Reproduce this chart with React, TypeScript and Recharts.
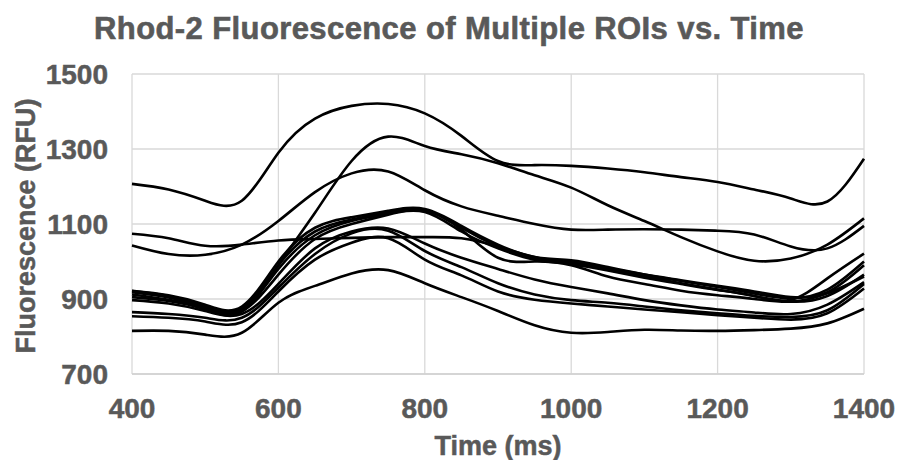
import { LineChart, Line, XAxis, YAxis, CartesianGrid } from "recharts";

// sample times (ms)
const times = [
  400, 450, 500, 550, 600, 650, 700, 750, 800, 850, 900, 950, 1000, 1050,
  1100, 1150, 1200, 1250, 1300, 1350, 1400,
];

// fluorescence per ROI (RFU)
const roiA = [1207, 1192, 1162, 1162, 1290, 1381, 1415, 1420, 1395, 1335, 1268, 1257, 1255, 1248, 1238, 1225, 1212, 1192, 1168, 1160, 1274];
const roiB = [905, 895, 872, 866, 990, 1130, 1268, 1333, 1308, 1286, 1262, 1230, 1197, 1150, 1108, 1065, 1027, 1002, 1008, 1045, 1115];
const roiC = [1043, 1020, 1018, 1045, 1108, 1185, 1235, 1240, 1190, 1147, 1122, 1100, 1085, 1085, 1086, 1085, 1082, 1072, 1040, 1035, 1095];
const roiD = [1074, 1062, 1042, 1045, 1056, 1060, 1063, 1065, 1065, 1062, 1040, 1012, 997, 982, 965, 950, 935, 920, 905, 918, 990];
const roiE1 = [922, 910, 885, 880, 1000, 1090, 1118, 1135, 1140, 1095, 1045, 1012, 1003, 985, 965, 948, 932, 915, 902, 925, 1000];
const roiE2 = [921, 908, 882, 876, 990, 1080, 1112, 1132, 1138, 1090, 1040, 1008, 998, 980, 960, 942, 925, 908, 893, 908, 965];
const roiE3 = [918, 904, 879, 872, 980, 1070, 1108, 1128, 1135, 1085, 1010, 1000, 993, 976, 957, 940, 924, 908, 898, 955, 1021];
const roiX = [912, 898, 876, 868, 965, 1060, 1100, 1125, 1132, 1080, 1035, 1005, 990, 960, 940, 922, 910, 900, 893, 915, 960];
const roiF1 = [897, 888, 868, 860, 940, 1035, 1080, 1088, 1048, 1010, 980, 952, 932, 915, 897, 883, 872, 864, 860, 885, 945];
const roiF2 = [865, 860, 850, 850, 930, 1020, 1075, 1082, 1028, 985, 942, 912, 897, 890, 880, 870, 862, 855, 852, 870, 940];
const roiF3 = [854, 850, 840, 838, 920, 1005, 1050, 1062, 1005, 963, 920, 898, 888, 880, 872, 865, 857, 850, 845, 862, 928];
const roiL = [815, 815, 805, 810, 890, 935, 968, 977, 942, 905, 868, 830, 810, 812, 818, 816, 815, 817, 821, 835, 874];

const rois = [roiA, roiB, roiC, roiD, roiE1, roiE2, roiE3, roiX, roiF1, roiF2, roiF3, roiL];

const xTicks = [400, 600, 800, 1000, 1200, 1400];
const yTicks = [700, 900, 1100, 1300, 1500];

const data = times.map((t, i) => {
  const row: Record<string, number> = { time: t };
  rois.forEach((r, k) => {
    row["roi" + k] = r[i];
  });
  return row;
});

const gray = "#595959";
const font = "Arial, 'Liberation Sans', sans-serif";
const tickStyle = {
  fill: gray,
  fontSize: 28,
  fontWeight: 700,
  fontFamily: font,
  stroke: gray,
  strokeWidth: 0.5,
};

export default function App() {
  return (
    <div style={{ position: "absolute", left: 0, top: 0, width: 897, height: 460, background: "#fff" }}>
      <LineChart
        width={897}
        height={460}
        data={data}
        margin={{ top: 74, right: 33, left: 0, bottom: 0 }}
      >
        <CartesianGrid stroke="#d9d9d9" strokeWidth={1.3} />
        <XAxis
          dataKey="time"
          type="number"
          domain={[400, 1400]}
          ticks={xTicks}
          height={86}
          axisLine={{ stroke: "#d0d0d0", strokeWidth: 1.3 }}
          tickLine={false}
          tickSize={0}
          tickMargin={24}
          tick={tickStyle}
        />
        <YAxis
          type="number"
          domain={[700, 1500]}
          ticks={yTicks}
          width={132}
          axisLine={false}
          tickLine={false}
          tickSize={0}
          tickMargin={24}
          tick={tickStyle}
        />
        {rois.map((_, k) => (
          <Line
            key={k}
            dataKey={"roi" + k}
            type="natural"
            stroke="#000"
            strokeWidth={2.6}
            dot={false}
            isAnimationActive={false}
          />
        ))}
      </LineChart>
      <svg
        width={897}
        height={460}
        style={{ position: "absolute", left: 0, top: 0, pointerEvents: "none" }}
      >
        <text
          x={449}
          y={39}
          textAnchor="middle"
          fill={gray}
          stroke={gray}
          strokeWidth={0.6}
          fontSize={31}
          fontWeight={700}
          letterSpacing={0.4}
          fontFamily={font}
        >
          Rhod-2 Fluorescence of Multiple ROIs vs. Time
        </text>
        <text
          x={498}
          y={455}
          textAnchor="middle"
          fill={gray}
          stroke={gray}
          strokeWidth={0.5}
          fontSize={27}
          fontWeight={700}
          fontFamily={font}
        >
          Time (ms)
        </text>
        <text
          x={35}
          y={226}
          textAnchor="middle"
          transform="rotate(-90 35 226)"
          fill={gray}
          stroke={gray}
          strokeWidth={0.5}
          fontSize={27}
          fontWeight={700}
          fontFamily={font}
        >
          Fluorescence (RFU)
        </text>
      </svg>
    </div>
  );
}
